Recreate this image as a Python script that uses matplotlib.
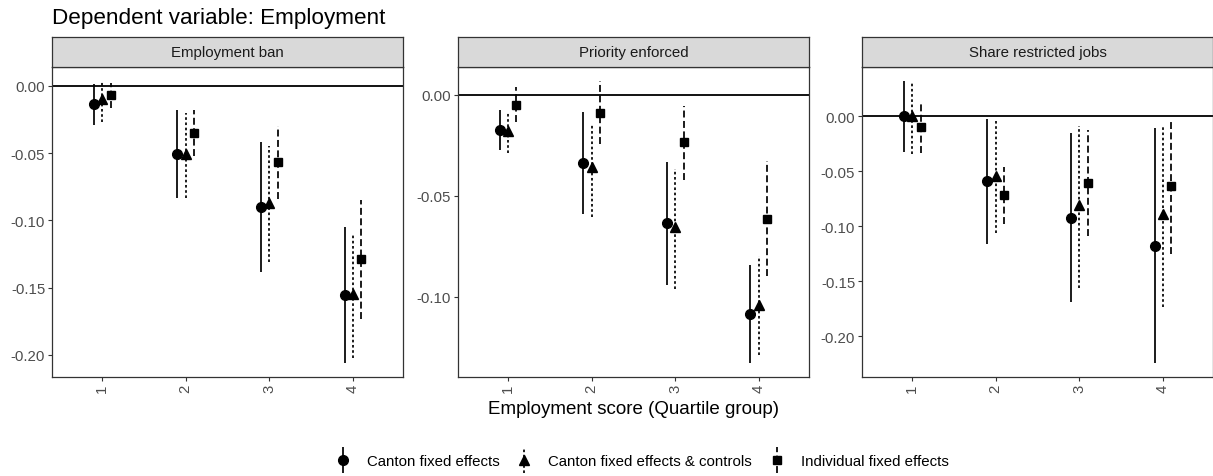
import matplotlib
matplotlib.use("Agg")
import matplotlib.pyplot as plt
from matplotlib.legend_handler import HandlerErrorbar
from matplotlib.container import ErrorbarContainer
import numpy as np

plt.rcParams['font.family'] = ['Liberation Sans', 'DejaVu Sans']
plt.rcParams['axes.unicode_minus'] = False

quartiles = [1, 2, 3, 4]
panels = ["Employment ban", "Priority enforced", "Share restricted jobs"]
models = ["Canton fixed effects", "Canton fixed effects & controls", "Individual fixed effects"]

# rows: canton FE, canton FE & controls, individual FE
ban_est = [[-0.0137, -0.0506, -0.0904, -0.1557],
           [-0.0100, -0.0506, -0.0870, -0.1550],
           [-0.0070, -0.0351, -0.0570, -0.1290]]
ban_lo = [[-0.0290, -0.0834, -0.1385, -0.2060],
          [-0.0270, -0.0837, -0.1310, -0.2020],
          [-0.0165, -0.0520, -0.0840, -0.1730]]
ban_hi = [[0.0010, -0.0177, -0.0418, -0.1050],
          [0.0035, -0.0199, -0.0448, -0.1100],
          [0.0020, -0.0177, -0.0300, -0.0850]]

prio_est = [[-0.0174, -0.0338, -0.0637, -0.1085],
            [-0.0180, -0.0360, -0.0657, -0.1040],
            [-0.0049, -0.0089, -0.0233, -0.0614]]
prio_lo = [[-0.0273, -0.0590, -0.0940, -0.1327],
           [-0.0287, -0.0604, -0.0960, -0.1290],
           [-0.0136, -0.0243, -0.0422, -0.0897]]
prio_hi = [[-0.0074, -0.0087, -0.0335, -0.0844],
           [-0.0084, -0.0144, -0.0366, -0.0800],
           [0.0039, 0.0067, -0.0057, -0.0330]]

share_est = [[0.0000, -0.0590, -0.0920, -0.1180],
             [0.0000, -0.0540, -0.0810, -0.0890],
             [-0.0097, -0.0716, -0.0610, -0.0634]]
share_lo = [[-0.0328, -0.1160, -0.1690, -0.2240],
            [-0.0340, -0.1060, -0.1560, -0.1736],
            [-0.0330, -0.0980, -0.1090, -0.1247]]
share_hi = [[0.0320, -0.0020, -0.0150, -0.0110],
            [0.0300, -0.0033, -0.0085, -0.0076],
            [0.0137, -0.0460, -0.0127, -0.0020]]

panel_data = [(ban_est, ban_lo, ban_hi),
              (prio_est, prio_lo, prio_hi),
              (share_est, share_lo, share_hi)]

markers = ['o', '^', 's']
msizes = [7, 7.5, 6.3]
lstyles = ['-', (0, (1.5, 1.5)), (0, (4, 2))]
offsets = [-0.1, 0.0, 0.1]
yticks = [[0, -0.05, -0.10, -0.15, -0.20], [0, -0.05, -0.10], [0, -0.05, -0.10, -0.15, -0.20]]

W, H = 1213, 477
fig = plt.figure(figsize=(W / 100, H / 100), dpi=100)
lefts = [52, 458, 862]
pw = 351
top, bot, strip_top = 68, 378, 38
border = '#333333'

handles = []
for i in range(3):
    est, lo, hi = panel_data[i]
    ax = fig.add_axes([lefts[i] / W, 1 - bot / H, pw / W, (bot - top) / H])
    ax.axhline(0, color='black', lw=1.3, zorder=1)
    for m in range(3):
        x = np.array(quartiles) + offsets[m]
        e = np.array(est[m])
        eb = ax.errorbar(x, e, yerr=[e - np.array(lo[m]), np.array(hi[m]) - e],
                         fmt=markers[m], ms=msizes[m], color='black', ecolor='black',
                         elinewidth=1.25, capsize=0, label=models[m], zorder=3)
        eb[2][0].set_linestyle(lstyles[m])
        if i == 0:
            handles.append(eb)
    ax.set_xlim(0.4, 4.6)
    ax.margins(y=0.05)
    ax.set_xticks(quartiles)
    ax.set_xticklabels([str(q) for q in quartiles], rotation=90)
    ax.set_yticks(yticks[i])
    ax.set_yticklabels(["%.2f" % v for v in yticks[i]])
    ax.tick_params(colors=border, labelcolor='#4D4D4D', labelsize=10.8,
                   length=2.75, width=0.8, pad=2.2)
    for s in ax.spines.values():
        s.set_color(border)
        s.set_linewidth(0.9)
    # strip
    sax = fig.add_axes([lefts[i] / W, 1 - top / H, pw / W, (top - strip_top) / H])
    sax.set_facecolor('#D9D9D9')
    sax.set_xticks([])
    sax.set_yticks([])
    for s in sax.spines.values():
        s.set_color(border)
        s.set_linewidth(0.9)
    sax.text(0.5, 0.5, panels[i], ha='center', va='center', fontsize=10.8,
             color='#1A1A1A', transform=sax.transAxes)

fig.text(52 / W, 1 - 24 / H, "Dependent variable: Employment", fontsize=16.2,
         ha='left', va='baseline')
fig.text(633 / W, 1 - 410 / H, "Employment score (Quartile group)", fontsize=13.5,
         ha='center', va='center')

fig.legend(handles, models, loc='center', bbox_to_anchor=(642 / W, 1 - 462 / H),
           ncol=3, frameon=False, fontsize=10.8, handlelength=1.0, handletextpad=1.1,
           columnspacing=1.17, numpoints=1, borderpad=0.1,
           handler_map={ErrorbarContainer: HandlerErrorbar(yerr_size=0.85)})

fig.savefig("out.png", dpi=100)
